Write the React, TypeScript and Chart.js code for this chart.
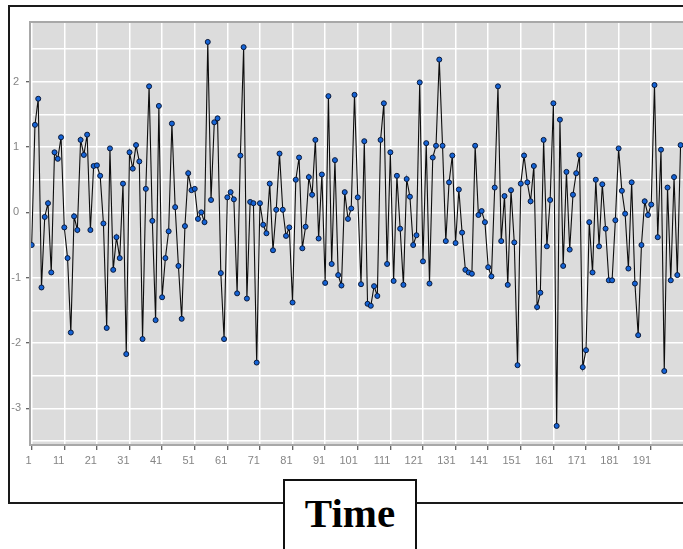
import React, { useEffect, useRef } from 'react';
import { Chart, registerables } from 'chart.js';

Chart.register(...registerables);

const values: number[] = [
  -0.50, 1.34, 1.74, -1.15, -0.07, 0.14, -0.92, 0.92, 0.82, 1.15,
  -0.23, -0.70, -1.84, -0.06, -0.27, 1.11, 0.88, 1.19, -0.27, 0.71,
  0.72, 0.56, -0.17, -1.77, 0.98, -0.88, -0.38, -0.70, 0.44, -2.17,
  0.92, 0.67, 1.03, 0.78, -1.94, 0.36, 1.93, -0.13, -1.65, 1.63,
  -1.30, -0.70, -0.29, 1.36, 0.08, -0.82, -1.63, -0.21, 0.60, 0.34,
  0.36, -0.10, 0.00, -0.15, 2.61, 0.19, 1.38, 1.44, -0.93, -1.94,
  0.23, 0.31, 0.20, -1.24, 0.87, 2.53, -1.32, 0.16, 0.14, -2.30,
  0.14, -0.19, -0.32, 0.44, -0.58, 0.04, 0.90, 0.04, -0.36, -0.23,
  -1.38, 0.50, 0.84, -0.55, -0.22, 0.54, 0.27, 1.11, -0.40, 0.58,
  -1.08, 1.78, -0.79, 0.80, -0.96, -1.12, 0.31, -0.10, 0.06, 1.80,
  0.23, -1.10, 1.09, -1.40, -1.43, -1.13, -1.28, 1.11, 1.67, -0.79,
  0.92, -1.05, 0.56, -0.25, -1.11, 0.51, 0.24, -0.50, -0.35, 1.99,
  -0.75, 1.06, -1.09, 0.84, 1.02, 2.34, 1.02, -0.44, 0.46, 0.87,
  -0.47, 0.35, -0.31, -0.88, -0.92, -0.94, 1.02, -0.04, 0.02, -0.15,
  -0.84, -0.98, 0.38, 1.93, -0.44, 0.25, -1.11, 0.34, -0.46, -2.34,
  0.44, 0.87, 0.46, 0.17, 0.71, -1.45, -1.23, 1.11, -0.52, 0.19,
  1.67, -3.27, 1.42, -0.82, 0.62, -0.57, 0.27, 0.60, 0.88, -2.37,
  -2.11, -0.15, -0.92, 0.50, -0.52, 0.43, -0.25, -1.04, -1.04, -0.12,
  0.98, 0.33, -0.02, -0.86, 0.46, -1.09, -1.88, -0.50, 0.17, -0.04,
  0.12, 1.95, -0.38, 0.96, -2.43, 0.38, -1.04, 0.54, -0.96, 1.03,
];

const xTickValues: number[] = [1, 11, 21, 31, 41, 51, 61, 71, 81, 91, 101, 111, 121, 131, 141, 151, 161, 171, 181, 191];
const yTickValues: number[] = [-3.5, -3, -2.5, -2, -1.5, -1, -0.5, 0, 0.5, 1, 1.5, 2, 2.5];
const xTitle = 'Time';

const X_MIN = 0.786;
const X_MAX = 210.56;
const Y_MIN = -3.547;
const Y_MAX = 2.9;

const bgPlugin = {
  id: 'plotBg',
  beforeDraw(chart: any) {
    const { ctx, chartArea: a } = chart;
    ctx.save();
    ctx.fillStyle = '#dcdcdc';
    ctx.fillRect(a.left, a.top, a.right - a.left, a.bottom - a.top);
    ctx.restore();
  },
  beforeDatasetsDraw(chart: any) {
    const { ctx, chartArea: a } = chart;
    ctx.save();
    ctx.strokeStyle = '#a8a8a8';
    ctx.lineWidth = 2;
    ctx.strokeRect(a.left - 1, a.top - 1, a.right - a.left + 2, a.bottom - a.top + 2);
    ctx.restore();
  },
};

export default function App() {
  const ref = useRef<HTMLCanvasElement>(null);

  useEffect(() => {
    if (!ref.current) return;
    const chart = new Chart(ref.current, {
      type: 'line',
      data: {
        datasets: [
          {
            data: values.map((v, i) => ({ x: i + 1, y: v })),
            borderColor: '#0d0d0d',
            borderWidth: 1.1,
            pointRadius: 2.5,
            pointBackgroundColor: '#1463d6',
            pointBorderColor: '#0b1a3a',
            pointBorderWidth: 1,
            tension: 0,
          },
        ],
      },
      options: {
        animation: false,
        responsive: false,
        devicePixelRatio: 1,
        layout: { padding: { top: 23, right: 2, left: 0, bottom: 0 } },
        plugins: { legend: { display: false }, tooltip: { enabled: false } },
        scales: {
          x: {
            type: 'linear',
            min: X_MIN,
            max: X_MAX,
            afterFit(s: any) { s.height = 31; },
            afterBuildTicks(s: any) { s.ticks = xTickValues.map((v) => ({ value: v })); },
            grid: { color: '#ffffff', lineWidth: 1.5, tickColor: '#333333', tickLength: 6, tickWidth: 1 },
            border: { display: false },
            ticks: {
              autoSkip: false,
              maxRotation: 0,
              align: 'end',
              padding: 4,
              color: '#858585',
              font: { family: '"Liberation Sans", Arial, sans-serif', size: 11 },
              callback: (v: any) => String(v),
            },
          },
          y: {
            type: 'linear',
            min: Y_MIN,
            max: Y_MAX,
            afterFit(s: any) { s.width = 31; },
            afterBuildTicks(s: any) { s.ticks = yTickValues.map((v) => ({ value: v })); },
            grid: {
              color: '#ffffff',
              lineWidth: 1.5,
              tickColor: (c: any) => (c.tick && Number.isInteger(c.tick.value) ? '#333333' : 'rgba(0,0,0,0)'),
              tickLength: 5,
              tickWidth: 1,
            },
            border: { display: false },
            ticks: {
              autoSkip: false,
              crossAlign: 'center',
              padding: 5,
              color: '#858585',
              font: { family: '"Liberation Sans", Arial, sans-serif', size: 11 },
              callback: (v: any) => (Number.isInteger(v) ? String(v) : ''),
            },
          },
        },
      },
      plugins: [bgPlugin],
    } as any);
    return () => chart.destroy();
  }, []);

  return (
    <div style={{ position: 'fixed', left: 0, top: 0, width: 683, height: 549, overflow: 'hidden', background: '#fff' }}>
      <div
        style={{
          position: 'absolute', left: 8, top: 5, width: 720, height: 499,
          borderLeft: '2px solid #1a1a1a', borderTop: '2px solid #1a1a1a', borderBottom: '2px solid #1a1a1a',
          boxSizing: 'border-box',
        }}
      />
      <canvas ref={ref} width={720} height={475} style={{ position: 'absolute', left: 0, top: 0, width: 720, height: 475 }} />
      <div
        style={{
          position: 'absolute', left: 283, top: 479, width: 134, height: 90,
          border: '2px solid #111', boxSizing: 'border-box', background: '#fff',
        }}
      >
        <div
          style={{
            position: 'absolute', left: 0, right: 0, top: 12, textAlign: 'center',
            font: 'bold 41px "Liberation Serif", "Times New Roman", serif', lineHeight: '40px', color: '#000',
          }}
        >
          {xTitle}
        </div>
      </div>
    </div>
  );
}
